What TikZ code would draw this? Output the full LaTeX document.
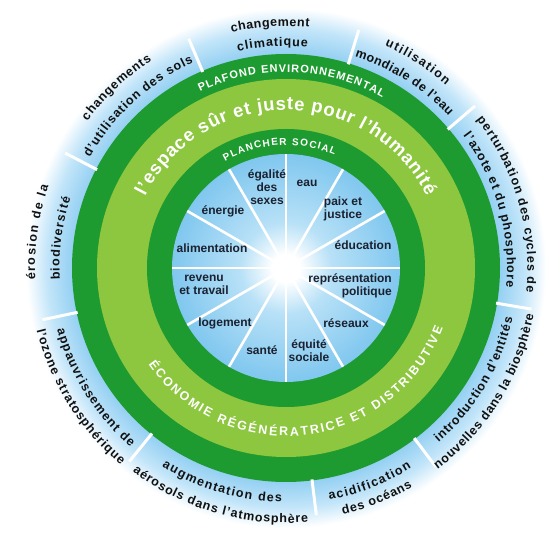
\documentclass[tikz,border=0pt]{standalone}
\usepackage{fontspec}
\setmainfont{Liberation Sans}
\usetikzlibrary{decorations.text}
\definecolor{dkgreen}{HTML}{1E9B30}
\definecolor{ltgreen}{HTML}{8DC63F}
\definecolor{discedge}{HTML}{80C7EF}
\definecolor{discmid}{HTML}{B8E1F7}
\definecolor{ringin}{HTML}{92CFF2}
\definecolor{ringmid}{HTML}{C2E5F9}
\definecolor{ringout}{HTML}{FFFFFF}
\definecolor{txtdark}{HTML}{1A2130}
\definecolor{txtblack}{HTML}{111111}
\pgfdeclareradialshading{discshade}{\pgfpoint{0bp}{0bp}}{color(0bp)=(white); color(3bp)=(white); color(10bp)=(discmid); color(25bp)=(discedge); color(50bp)=(discedge)}
\pgfdeclareradialshading{ringshade}{\pgfpoint{0bp}{0bp}}{color(0bp)=(ringin); color(20.3bp)=(ringin); color(22.8bp)=(ringmid); color(24.8bp)=(ringout); color(50bp)=(ringout)}
\newcommand\fOut{\fontsize{12.5bp}{15bp}\selectfont\bfseries}
\newcommand\fBig{\fontsize{18.5bp}{20bp}\selectfont\bfseries}
\newcommand\fCap{\fontsize{11bp}{13bp}\selectfont\bfseries}
\newcommand\fSoc{\fontsize{10bp}{12bp}\selectfont\bfseries}
\newcommand\fEco{\fontsize{12.5bp}{14bp}\selectfont\bfseries}
\newcommand\arclabel[6]{\path[decorate,decoration={text along path,text align={fit to path},text color=#4,text={|#5|#6}}] (#2:#1) arc[start angle=#2,end angle=#3,radius=#1];}
\begin{document}
\begin{tikzpicture}[x=1bp,y=1bp,
  soc/.style={font=\fontsize{12bp}{13bp}\selectfont\bfseries, text=txtdark, align=center, inner sep=0pt},
  spoke/.style={white, line width=2.6bp},
  divider/.style={white, line width=3bp}]
\useasboundingbox (-286,-266) rectangle (272,268);
\fill[white] (-286,-266) rectangle (272,268);
% outer boundary ring
\shade[shading=ringshade] (0,0) circle (262);
\fill[dkgreen] (0,0) circle (214);
\fill[ltgreen] (0,0) circle (189);
\fill[dkgreen] (0,0) circle (139);
\shade[shading=discshade] (0,0) circle (114);
\foreach \a in {113,73,40.6,-9.5,-53,-83,-129,-168,152.5}
  \draw[divider] (\a:213) -- (\a:249);
\foreach \a in {0,30,...,330}
  \draw[spoke] (\a:7) -- (\a:114);
% ring titles
\arclabel{196}{116}{60.5}{white}{\fCap}{PLAFOND ENVIRONNEMENTAL}
\arclabel{123}{119.6}{66.7}{white}{\fSoc}{PLANCHER SOCIAL}
\arclabel{158}{153}{27}{white}{\fBig}{l'espace sûr et juste pour l'humanité}
\arclabel{168}{-145}{-21}{white}{\fEco}{ÉCONOMIE RÉGÉNÉRATRICE ET DISTRIBUTIVE}
% planetary boundaries (upper half, clockwise)
\arclabel{242}{103}{84.5}{txtblack}{\fOut}{changement}
\arclabel{222}{102.5}{84.4}{txtblack}{\fOut}{climatique}
\arclabel{247}{143.5}{122.9}{txtblack}{\fOut}{changements}
\arclabel{225}{150.6}{114.3}{txtblack}{\fOut}{d'utilisation des sols}
\arclabel{243}{66}{48.8}{txtblack}{\fOut}{utilisation}
\arclabel{222.5}{72}{43}{txtblack}{\fOut}{mondiale de l'eau}
\arclabel{241.5}{37.9}{-5.8}{txtblack}{\fOut}{perturbation des cycles de}
\arclabel{221}{36.7}{-4.9}{txtblack}{\fOut}{l'azote et du phosphore}
\arclabel{251}{182.7}{161}{txtblack}{\fOut}{érosion de la}
\arclabel{226.5}{183}{162}{txtblack}{\fOut}{biodiversité}
% planetary boundaries (lower half, counter-clockwise)
\arclabel{232}{-48.9}{-12.4}{txtblack}{\fOut}{introduction d'entités}
\arclabel{252}{-53}{-10.7}{txtblack}{\fOut}{nouvelles dans la biosphère}
\arclabel{236}{-79.4}{-57.9}{txtblack}{\fOut}{acidification}
\arclabel{253}{-77}{-60}{txtblack}{\fOut}{des océans}
\arclabel{234}{-122}{-91}{txtblack}{\fOut}{augmentation des}
\arclabel{255}{-127}{-85}{txtblack}{\fOut}{aérosols dans l'atmosphère}
\arclabel{237}{-164.9}{-131}{txtblack}{\fOut}{appauvrissement de}
\arclabel{257}{-166}{-130}{txtblack}{\fOut}{l'ozone stratosphérique}
% social foundation
\node[soc] (egal) at (-19,81) {égalité\\des\\sexes};
\node[soc] (eau) at (21,85) {eau};
\node[soc, align=left] (paix) at (57,59) {paix et\\justice};
\node[soc] (educ) at (77,23) {éducation};
\node[soc, align=right, anchor=east] (repr) at (106,-17.5) {représentation\\politique};
\node[soc] (reseaux) at (60,-55) {réseaux};
\node[soc] (equite) at (23,-82.5) {équité\\sociale};
\node[soc] (sante) at (-24,-82) {santé};
\node[soc] (logement) at (-61,-55) {logement};
\node[soc] (revenu) at (-82,-16.5) {revenu\\et travail};
\node[soc] (aliment) at (-74,20) {alimentation};
\node[soc] (energie) at (-63,57) {énergie};
\end{tikzpicture}
\end{document}
